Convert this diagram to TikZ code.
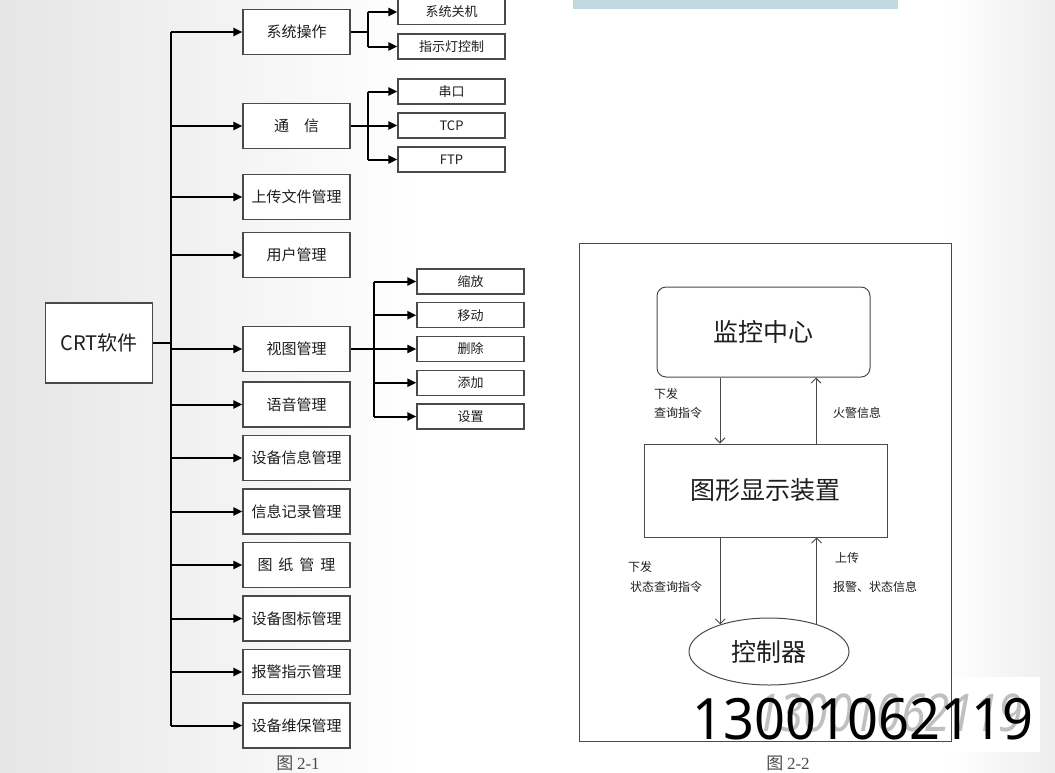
\documentclass[tikz,border=0pt]{standalone}
\usepackage{fontspec}
\usepackage{tikz}
\usetikzlibrary{arrows.meta,positioning,shapes.geometric}
\setmainfont{Noto Sans CJK SC}
\newfontfamily\numfont{Noto Sans}
\newfontfamily\capfont{Liberation Serif}
\definecolor{lineGray}{HTML}{4A4A4A}
\definecolor{textGray}{HTML}{1E1E1E}
\definecolor{barTeal}{HTML}{BFD9DF}

\begin{document}
\begin{tikzpicture}[x=1pt,y=1pt,
  box/.style={draw=lineGray,line width=1.2pt,fill=white,minimum width=107pt,minimum height=45pt,inner sep=0pt,text=textGray,font=\fontsize{15}{15}\selectfont},
  leaf/.style={box,minimum height=25pt,font=\fontsize{13}{13}\selectfont},
  panel/.style={draw=lineGray,line width=1pt,fill=white,inner sep=0pt,text=textGray,font=\fontsize{25}{25}\selectfont},
  note/.style={inner sep=0pt,text=textGray,font=\fontsize{12}{12}\selectfont},
  caption/.style={inner sep=0pt,text=lineGray,font=\fontsize{17}{17}\selectfont},
  arrow/.style={-{Triangle[length=9pt,width=8pt]},line width=2pt},
  bus/.style={line width=2pt},
  flow/.style={-{Straight Barb[length=5pt,width=10pt]},draw=lineGray,line width=0.9pt},
  node distance=7.3pt]
\useasboundingbox (0,0) rectangle (1055,-772);
\fill[white] (0,0) rectangle (1055,-772);
\shade[left color=gray!20,right color=white] (0,0) rectangle (420,-772);
\shade[left color=white,right color=gray!14] (945,0) rectangle (1055,-772);
\fill[barTeal] (573,0) rectangle (898,-9);
\fill[white] (685,-677) rectangle (1040,-752);
\node[box,minimum height=80pt,font=\fontsize{20}{20}\selectfont] (crt) at (99,-343) {CRT软件};
\node[box] (sys) at (296.5,-32) {系统操作};
\node[box] (comm) at (296.5,-126) {通\hspace{1em}信};
\node[box] (upload) at (296.5,-197) {上传文件管理};
\node[box] (user) at (296.5,-255) {用户管理};
\node[box] (view) at (296.5,-349) {视图管理};
\node[box] (voice) at (296.5,-404.5) {语音管理};
\node[box,below=of voice] (devinfo) {设备信息管理};
\node[box,below=of devinfo] (record) {信息记录管理};
\node[box,below=of record] (paper) {图\hspace{.4em}纸\hspace{.4em}管\hspace{.4em}理};
\node[box,below=of paper] (icon) {设备图标管理};
\node[box,below=of icon] (alarm) {报警指示管理};
\node[box,below=of alarm] (maint) {设备维保管理};
\node[leaf] (shut) at (451.5,-12) {系统关机};
\node[leaf] (lamp) at (451.5,-46.5) {指示灯控制};
\node[leaf] (serial) at (451.5,-91.5) {串口};
\node[leaf] (tcp) at (451.5,-125.5) {TCP};
\node[leaf] (ftp) at (451.5,-159.5) {FTP};
\node[leaf] (zoom) at (470.5,-281.5) {缩放};
\node[leaf,below=7.55pt of zoom] (move) {移动};
\node[leaf,below=7.55pt of move] (del) {删除};
\node[leaf,below=7.55pt of del] (add) {添加};
\node[leaf,below=7.55pt of add] (setup) {设置};
\coordinate (bus) at (171,0);
\coordinate (fork) at (368,0);
\coordinate (viewfork) at (374,0);
\draw[bus] (crt) -- (crt -| bus); \draw[bus] (sys -| bus) -- (maint -| bus);
\draw[arrow] (sys -| bus) -- (sys); \draw[arrow] (comm -| bus) -- (comm); \draw[arrow] (upload -| bus) -- (upload);
\draw[arrow] (user -| bus) -- (user); \draw[arrow] (view -| bus) -- (view); \draw[arrow] (voice -| bus) -- (voice);
\draw[arrow] (devinfo -| bus) -- (devinfo); \draw[arrow] (record -| bus) -- (record); \draw[arrow] (paper -| bus) -- (paper);
\draw[arrow] (icon -| bus) -- (icon); \draw[arrow] (alarm -| bus) -- (alarm); \draw[arrow] (maint -| bus) -- (maint);
\draw[bus] (sys) -- (sys -| fork); \draw[bus] (shut -| fork) -- (lamp -| fork);
\draw[arrow] (shut -| fork) -- (shut); \draw[arrow] (lamp -| fork) -- (lamp);
\draw[bus] (comm) -- (comm -| fork); \draw[bus] (serial -| fork) -- (ftp -| fork);
\draw[arrow] (serial -| fork) -- (serial); \draw[arrow] (tcp -| fork) -- (tcp); \draw[arrow] (ftp -| fork) -- (ftp);
\draw[bus] (view) -- (view -| viewfork); \draw[bus] (zoom -| viewfork) -- (setup -| viewfork);
\draw[arrow] (zoom -| viewfork) -- (zoom); \draw[arrow] (move -| viewfork) -- (move); \draw[arrow] (del -| viewfork) -- (del);
\draw[arrow] (add -| viewfork) -- (add); \draw[arrow] (setup -| viewfork) -- (setup);
\node[caption] (cap1) at (298,-763) {图 {\capfont 2-1}};
\draw[lineGray,line width=1pt] (579,-243) rectangle (951,-741);
\node[panel,rounded corners=9pt,minimum width=213pt,minimum height=90pt] (center) at (763.5,-332) {监控中心};
\node[panel,minimum width=243pt,minimum height=93pt] (display) at (765.5,-490.5) {图形显示装置};
\node[panel,ellipse,minimum width=160pt,minimum height=67pt] (ctrl) at (769,-651.5) {控制器};
\coordinate (down) at (720,0);
\coordinate (up) at (816,0);
\draw[flow] (center.south -| down) -- (display.north -| down);
\draw[flow] (display.north -| up) -- (center.south -| up);
\draw[flow] (display.south -| ctrl.151.6) -- (ctrl.151.6);
\draw[flow] (ctrl.30.8) -- (display.south -| ctrl.30.8);
\node[note,anchor=west] (sendA) at (654,-394) {下发};
\node[note,anchor=west] (query) at (654,-413) {查询指令};
\node[note] (fire) at (857,-413) {火警信息};
\node[note,anchor=west] (sendB) at (628,-567) {下发};
\node[note,anchor=west] (status) at (630,-587) {状态查询指令};
\node[note,anchor=west] (uplink) at (835,-558) {上传};
\node[note,anchor=west] (report) at (833,-587) {报警、状态信息};
\node[caption] (cap2) at (788,-763) {图 {\capfont 2-2}};
\node[inner sep=0pt,text=gray!50,font=\numfont\itshape\fontsize{52}{52}\selectfont] (markB) at (889,-713) {\scalebox{0.85}[1]{13001062119}};
\node[inner sep=0pt,text=black,font=\numfont\fontsize{57}{57}\selectfont] (markA) at (863,-719) {\scalebox{0.95}[1]{13001062119}};
\end{tikzpicture}
\end{document}
